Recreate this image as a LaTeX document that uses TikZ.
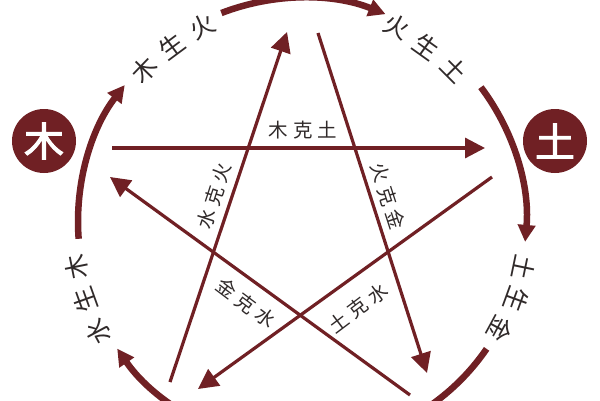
\documentclass[tikz,border=0pt]{standalone}
\usepackage{fontspec}
\setmainfont{Noto Sans CJK SC}
\newfontfamily\cjk{Noto Sans CJK SC}
\newfontfamily\cjkbold{Noto Sans CJK SC}[FakeBold=2.5]
\usetikzlibrary{arrows.meta,calc}
\definecolor{maroon}{RGB}{112,32,36}
\definecolor{txt}{RGB}{48,42,42}
\tikzset{
  ring/.style={draw=maroon,line width=6.5pt},
  ringarrow/.style={ring,-{Triangle[length=17pt,width=17pt]}},
  kline/.style={draw=maroon,line width=3.2pt},
  karrow/.style={kline,-{Triangle[length=20pt,width=20pt]}},
  elem/.style={circle,fill=maroon,minimum size=64pt,inner sep=0pt,text=white,font=\cjkbold\fontsize{40}{40}\selectfont},
  ringtxt/.style={text=txt,inner sep=0pt,font=\cjk\fontsize{25}{25}\selectfont},
  ktxt/.style={text=txt,inner sep=0pt,font=\cjk\fontsize{19.5}{19.5}\selectfont}
}
\newcommand{\gp}{\kern5pt}
\begin{document}
\begin{tikzpicture}[x=1pt,y=1pt]
\useasboundingbox (0,0) rectangle (600,400);
\fill[white] (0,0) rectangle (600,400);
\clip (0,0) rectangle (600,400);
\coordinate (c) at (302,178);
% ring segments (clockwise)
\draw[ringarrow] ($(c)+(111.1:224)$) arc[start angle=111.1,end angle=68.1,radius=224];
\draw[ringarrow] ($(c)+(184.3:224)$) arc[start angle=184.3,end angle=142.3,radius=224];
\draw[ringarrow] ($(c)+(255:224)$) arc[start angle=255,end angle=214.4,radius=224];
\draw[ringarrow] ($(c)+(37:224)$) arc[start angle=37,end angle=-5.1,radius=224];
\draw[ring] ($(c)+(-34.5:224)$) arc[start angle=-34.5,end angle=-80,radius=224];
% ring labels
\node[ringtxt,rotate=46] (a1) at ($(c)+(136:219)$) {木};
\node[ringtxt,rotate=36.5] (a2) at ($(c)+(126.5:219)$) {生};
\node[ringtxt,rotate=27] (a3) at ($(c)+(117:219)$) {火};
\node[ringtxt,rotate=-26] (b1) at ($(c)+(64:217)$) {火};
\node[ringtxt,rotate=-35.5] (b2) at ($(c)+(54.5:215)$) {生};
\node[ringtxt,rotate=-45] (b3) at ($(c)+(45:216)$) {土};
\node[ringtxt,rotate=-101.7] (d1) at ($(c)+(-11.7:227)$) {土};
\node[ringtxt,rotate=-110] (d2) at ($(c)+(-20:228)$) {生};
\node[ringtxt,rotate=-118.4] (d3) at ($(c)+(-28.4:226)$) {金};
\node[ringtxt,rotate=101.3] (e1) at ($(c)+(191.3:230)$) {木};
\node[ringtxt,rotate=109.8] (e2) at ($(c)+(199.8:231)$) {生};
\node[ringtxt,rotate=118.3] (e3) at ($(c)+(208.3:231)$) {水};
% element circles
\node[elem] (mu) at (44,259) {木};
\node[elem] (tu) at (555,259) {土};
% star lines
\coordinate (p1s) at (112,252); \coordinate (p1e) at (485,252);
\coordinate (p2s) at (318,367); \coordinate (p2e) at (427,27);
\coordinate (p3s) at (170,18);  \coordinate (p3e) at (287,368);
\coordinate (p4s) at (410,5);   \coordinate (p4e) at (110,223);
\coordinate (p5s) at (492,223); \coordinate (p5e) at (198,11);
\draw[karrow] (p1s) -- (p1e);
\draw[karrow] (p2s) -- (p2e);
\draw[karrow] (p3s) -- (p3e);
\draw[karrow] (p4s) -- (p4e);
\draw[karrow] (p5s) -- (p5e);
% star labels
\node[ktxt] (k1) at (303,270) {木\gp 克\gp 土};
\node[ktxt,rotate=72] (k2) at (214,204) {水\gp 克\gp 火};
\node[ktxt,rotate=-72] (k3) at (388,204) {火\gp 克\gp 金};
\node[ktxt,rotate=-37] (k4) at (246,97) {金\gp 克\gp 水};
\node[ktxt,rotate=37] (k5) at (358,92) {土\gp 克\gp 水};
\end{tikzpicture}
\end{document}
